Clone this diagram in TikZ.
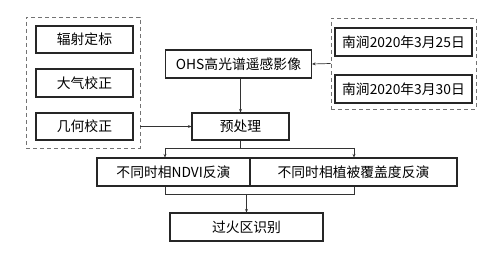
\documentclass[tikz,border=0pt]{standalone}
\usepackage{fontspec}
\newfontfamily\cjk{Noto Sans CJK SC}
\usepackage{tikz}
\usetikzlibrary{arrows.meta}

\begin{document}
\begin{tikzpicture}[x=1pt,y=-1pt]
          \tikzstyle{pbox}=[draw=black!85,line width=1.1pt,inner sep=0pt,font=\cjk\fontsize{13.8}{15}\selectfont]
          \tikzstyle{gbox}=[draw=black!55,line width=.9pt,dashed,dash pattern=on 4pt off 3pt]
          \tikzstyle{edge}=[draw=black!80,line width=.7pt]
          \tikzstyle{aedge}=[edge,-{Stealth[length=3.5pt,width=3pt]}]
          \useasboundingbox (0,0) rectangle (499,254);
          % left group
          \node[gbox,minimum width=114pt,minimum height=131pt] (lgrp) at (83,82.5) {};
          \node[pbox,minimum width=97pt,minimum height=27pt] (rad) at (84.5,39.5) {辐射定标};
          \node[pbox,minimum width=97pt,minimum height=28pt] (atm) at (84.5,83) {大气校正};
          \node[pbox,minimum width=97pt,minimum height=27pt] (geo) at (84.5,126.5) {几何校正};
          % right group
          \node[gbox,minimum width=145pt,minimum height=91pt] (rgrp) at (403.5,63.5) {};
          \node[pbox,minimum width=137pt,minimum height=28pt] (d25) at (403.5,42) {南涧2020年3月25日};
          \node[pbox,minimum width=137pt,minimum height=28pt] (d30) at (403.5,89) {南涧2020年3月30日};
          % main flow
          \node[pbox,minimum width=146pt,minimum height=28pt] (ohs) at (238.5,64) {OHS高光谱遥感影像};
          \node[pbox,minimum width=97pt,minimum height=27pt] (pre) at (240.5,126.5) {预处理};
          \node[pbox,minimum width=153pt,minimum height=28pt] (ndvi) at (173.5,172) {不同时相NDVI反演};
          \node[pbox,minimum width=207pt,minimum height=28pt] (fvc) at (353.5,172) {不同时相植被覆盖度反演};
          \node[pbox,minimum width=153pt,minimum height=28pt] (burn) at (246.5,227) {过火区识别};
          \coordinate (split) at (240.5,148);
          \coordinate (sl) at (165,148);
          \coordinate (sr) at (354,148);
          \coordinate (jl) at (165,194);
          \coordinate (jr) at (354,194);
          \coordinate (jm) at (246.5,194);
          \draw[aedge] (rgrp.west) -- (ohs.east);
          \draw[aedge] (ohs.south -| pre) -- (pre.north);
          \draw[aedge] (lgrp.east |- pre) -- (pre.west);
          \draw[edge] (pre.south) -- (split);
          \draw[edge] (sl) -- (sr);
          \draw[aedge] (sl) -- (sl |- ndvi.north);
          \draw[aedge] (sr) -- (sr |- fvc.north);
          \draw[edge] (jl |- ndvi.south) -- (jl) -- (jr) -- (jr |- fvc.south);
          \draw[aedge] (jm) -- (burn.north);
        \end{tikzpicture}
\end{document}
